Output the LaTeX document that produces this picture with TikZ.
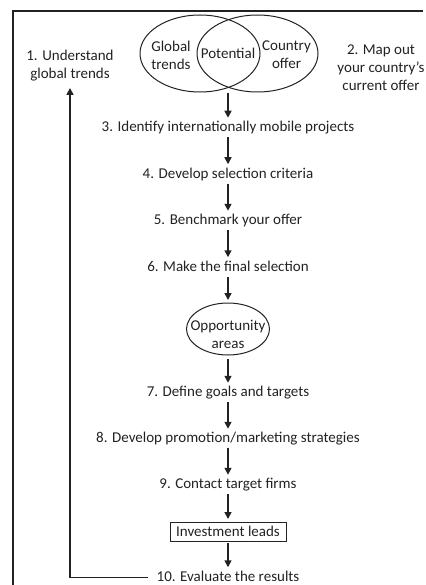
\documentclass[tikz,border=0pt]{standalone}
\usepackage{fontspec}
\setmainfont{Carlito}
\usetikzlibrary{shapes.geometric,arrows.meta}
\definecolor{ink}{HTML}{222222}
\begin{document}
\begin{tikzpicture}[x=1pt,y=-1pt,
  every node/.style={text=ink, inner sep=0pt, outer sep=0pt},
  lbl/.style={font=\fontsize{15}{18}\selectfont, align=center},
  steptxt/.style={lbl, text height=11pt, text depth=3.5pt},
  flow/.style={draw=ink, line width=1.6pt, -{Triangle[length=7pt,width=7pt]},
    shorten <=2pt, shorten >=3pt},
  circ/.style={draw=ink, line width=1pt, ellipse},
  frame/.style={draw=ink, line width=1.6pt}
]
\useasboundingbox (0,0) rectangle (425,585);

% open frame: top edge and left edge
\coordinate (ftr) at (423,11);
\coordinate (ftl) at (13,11);
\coordinate (fbl) at (13,590);
\draw[frame] (ftr) -- (ftl) -- (fbl);

% Venn diagram of trends and offer
\node[circ, minimum width=120pt, minimum height=77pt] (gt) at (200,53.5) {};
\node[circ, minimum width=121pt, minimum height=77pt] (co) at (257.5,53.5) {};
\node[lbl] (gtt) at (171,55) {Global\\trends};
\node[lbl] (pot) at (228,53.5) {Potential};
\node[lbl] (cot) at (286.5,55) {Country\\offer};

% side steps
\node[lbl] (s1) at (70,65.5) {1. Understand\\global trends};
\node[lbl] (s2) at (381,68) {2. Map out\\your country’s\\current offer};

% main column
\node[steptxt] (s3) at (228,128) {3. Identify internationally mobile projects};
\node[steptxt] (s4) at (228,174.5) {4. Develop selection criteria};
\node[steptxt] (s5) at (228,221) {5. Benchmark your offer};
\node[steptxt] (s6) at (228,267.5) {6. Make the final selection};
\node[circ, minimum width=83pt, minimum height=52pt] (opp) at (228,329) {};
\node[lbl] (oppt) at (228,334.5) {Opportunity\\areas};
\node[steptxt] (s7) at (228,393) {7. Define goals and targets};
\node[steptxt] (s8) at (228,439) {8. Develop promotion/marketing strategies};
\node[steptxt] (s9) at (228,485) {9. Contact target firms};
\node[lbl, draw=ink, line width=1pt, minimum width=116pt, minimum height=19pt]
  (leads) at (228,531.5) {Investment leads};
\node[steptxt] (s10) at (228,577.5) {10. Evaluate the results};

% connectors
\coordinate (vb) at (228,93);
\draw[flow, shorten <=0pt] (vb) -- (s3.north);
\draw[flow] (s3.south) -- (s4.north);
\draw[flow] (s4.south) -- (s5.north);
\draw[flow] (s5.south) -- (s6.north);
\draw[flow] (s6.south) -- (opp.north);
\draw[flow, shorten <=4pt] (opp.south) -- (s7.north);
\draw[flow] (s7.south) -- (s8.north);
\draw[flow] (s8.south) -- (s9.north);
\draw[flow] (s9.south) -- (leads.north);
\draw[flow] (leads.south) -- (s10.north);
\draw[flow, shorten <=9pt, shorten >=7pt] (s10.west) -| (s1.south);
\end{tikzpicture}
\end{document}
